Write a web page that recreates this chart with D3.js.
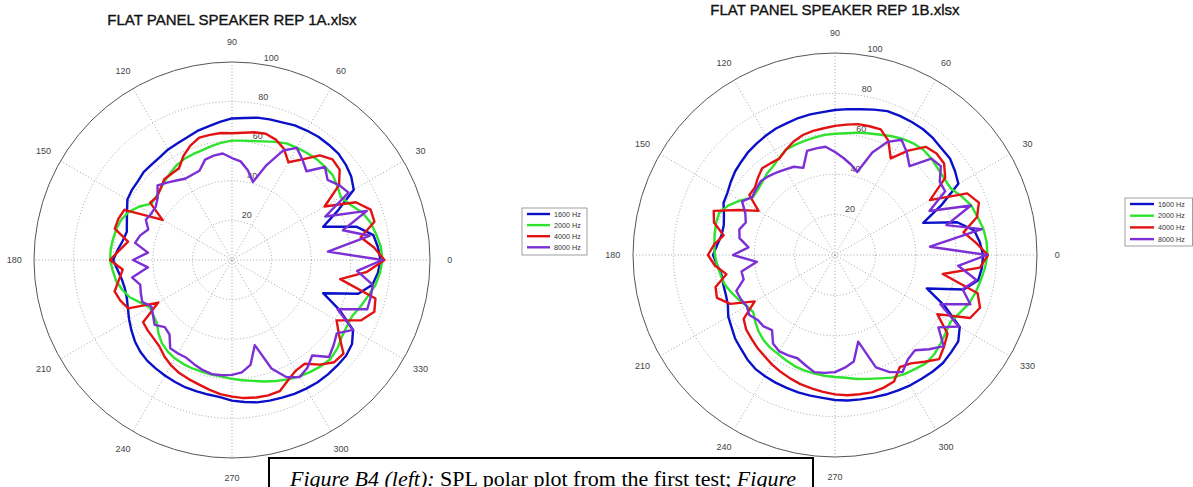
<!DOCTYPE html>
<html><head><meta charset="utf-8">
<script src="https://cdn.jsdelivr.net/npm/d3@7"></script>
<style>body{margin:0;background:#fff;overflow:hidden}svg{display:block}</style>
</head><body><svg id="c" width="1193" height="487"></svg>
<script>
const angles = [0,5,10,15,20,25,30,35,40,45,50,55,60,65,70,75,80,85,90,95,100,105,110,115,120,125,130,135,140,145,150,155,160,165,170,175,180,185,190,195,200,205,210,215,220,225,230,235,240,245,250,255,260,265,270,275,280,285,290,295,300,305,310,315,320,325,330,335,340,345,350,355];
const seriesNames = ["1600 Hz","2000 Hz","4000 Hz","8000 Hz"];
const radialTicks = [20,40,60,80,100];
const angleTicks = [0,30,60,90,120,150,180,210,240,270,300,330];

// REP 1A
const rep1A_1600 = [75,74,72.5,65,49,59,71,73.5,75,76,76,76,75.5,75,74,73.5,73,72,71.5,70,68.5,67.5,66,65,64.5,63.5,63,63,62,61.7,61,58.5,56.5,55,56,58,60,58,56.5,56,56.5,58,60,62,64,65.5,66.5,67,67.5,68,68.5,68.7,69,69.5,71,72,73,73.5,74,74.6,75,75.4,75.4,75.3,75.2,74,70.6,60,49,66,72,74];
const rep1A_2000 = [76,75.5,74,72.5,70,66,63.5,65,66.5,66.5,66.5,66,65.5,65,63.5,62,61,60.5,60.3,59.5,58.5,57.5,57,56.5,55.5,54,52.5,51,50,49.6,54,57.5,59.5,60.5,61,61.5,61.6,60.5,59.5,57.5,55,51,48,48.5,49.5,52.5,55,56.5,57.5,58,58.3,58.5,58.8,59.1,60,61,62,63.5,65,66.5,68,69,70,70.5,69.5,67.7,67,67,69,71,73.5,75];
const rep1A_4000 = [77,72,66,74.5,74.5,69,54,66,71,71.8,69,62,57,62,64.7,66,65.5,64.5,64,64.4,64.2,64,61.5,58,53.5,53.2,53.2,51,49.5,50.5,40.5,60,61,61.3,53.3,57,61.6,55.4,58,61.4,60,57.8,43,54.8,55.5,56,57,59.5,61.5,63,64,65,66.5,68,69,70,70.5,70.8,70.5,67,64.5,64,69,73,73.5,66,61,72,76.5,75,55.5,68.5];
const rep1A_8000 = [76,48.6,70.5,58,72.5,52,68,66,63,66.4,58.5,62,65.4,61,51,40.8,46,50,51.5,54,53.5,52.5,48,47.5,47.4,49,51,53.2,49,47,47,48,45,48,49.7,42.6,50,42.6,51.2,48,49,50,47,48.7,51,48,49.1,54.4,54.5,54.5,56,57.5,58.5,58.4,58,57,53.8,44.5,58.3,65.3,68.3,66.4,63,69.3,67,64.6,70.6,58.8,72.7,72.5,72.2,63.4];

// REP 1B
const rep1B_1600 = [73.3,72,70,62.6,46.5,58,70.5,72.5,74.3,74.6,75.5,76,76,76,75.8,74.5,73.3,72.5,71.8,71,70.7,70.2,69.5,69.1,68.3,67.5,66.7,65.5,64.5,63,61.5,60.9,58.5,57,57,58.5,60.4,58.5,57,57.2,57.5,58.5,61,62.5,64.5,65.8,67.5,68.8,69.3,69.7,70,70.4,70.7,71,71.8,72.3,72.6,73,73.5,74,74.5,74.8,75.3,75.6,75,74.5,71.3,60,48.4,66,72,73];
const rep1B_2000 = [75.5,75.3,74.6,73,71.8,69,66.1,66,66.5,67.5,68,67.5,66.5,65,63.5,62.4,61.5,60.5,60,59.7,59,58.5,58,57.5,55.5,53.5,52.5,51,50,49.7,54,58.2,61,61,60.5,60,59.5,58.5,57.5,56.5,54.5,52.5,50.5,49.4,51.5,53.5,55,56,56.5,57.5,58.5,59.1,59.5,60,60.4,61,62.3,63.5,65,67,68.2,69,70,69.5,68.2,67,66.1,68,70.5,72,73.2,74.5];
const rep1B_4000 = [75.7,70,64.6,72.8,75.8,72.2,54.3,66.6,70.5,71.1,69.9,63.1,55.2,62.5,66.2,66,65.8,64.8,63.9,63,62.4,61.5,59.8,57.5,55.1,55.5,56.1,54,51.8,51.8,43.7,52.7,63.9,62,56,60,62.9,59.7,54.6,61.2,62.2,57.2,45.9,55.2,57.4,58.5,59.9,61,62.5,63.8,65,66.2,67,68,69,69.7,70,70.4,70,69.1,64.1,65.5,69,72.9,70.5,68,58.5,73.8,76.4,73.1,54.2,72];
const rep1B_8000 = [75.2,47.2,73.8,57.1,71.6,51.6,63,63.3,68.4,67.5,57.4,62,65.9,61.8,54,42.5,45.5,48.2,51,53.8,53.6,53.4,45.9,48.2,49,50,51,51.8,51,50,53.1,49,47,49,48,43,50.5,38.8,47,46.8,52,51.5,50.5,51.8,50,50,48.5,53.5,55.1,54.8,54.4,56.5,58.9,58.6,58,56,53.5,44.4,59.2,64,66.9,63,61.6,66,70.2,62.5,70.8,57.6,71.3,65.4,71.1,61.2];

const colors = ["#0a10c8","#2ee22e","#e31212","#7b2fd4"];

const plots = [
  {cx:232, cy:260, R:198, title:"FLAT PANEL SPEAKER REP 1A.xlsx", titleY:25,
   series:[rep1A_1600,rep1A_2000,rep1A_4000,rep1A_8000],
   legend:{x:522,y:208,w:65,h:47,row0:6,step:11.1,lx0:5,lx1:28,tx:32}},
  {cx:835, cy:255, R:202, title:"FLAT PANEL SPEAKER REP 1B.xlsx", titleY:15,
   series:[rep1B_1600,rep1B_2000,rep1B_4000,rep1B_8000],
   legend:{x:1125,y:198,w:67.5,h:48,row0:6,step:11.7,lx0:5,lx1:29,tx:33}}
];

const svg = d3.select("#c");
svg.append("rect").attr("width",1193).attr("height",487).attr("fill","#fff");

plots.forEach(p => {
  const g = svg.append("g").attr("transform",`translate(${p.cx},${p.cy})`);
  const r = d3.scaleLinear().domain([0,100]).range([0,p.R]);
  const toRad = a => a*Math.PI/180;

  radialTicks.forEach(t => {
    g.append("circle").attr("r", r(t)).attr("fill","none")
      .attr("stroke", t===100 ? "#555" : "#9a9a9a")
      .attr("stroke-width", t===100 ? 1 : 0.9)
      .attr("stroke-dasharray", t===100 ? null : "1,2.2");
  });
  angleTicks.filter(a => a < 180).forEach(a => {
    g.append("line")
      .attr("x1", r(100)*Math.cos(toRad(a))).attr("y1", -r(100)*Math.sin(toRad(a)))
      .attr("x2", -r(100)*Math.cos(toRad(a))).attr("y2", r(100)*Math.sin(toRad(a)))
      .attr("stroke","#9a9a9a").attr("stroke-width",0.9).attr("stroke-dasharray","1,2.2");
  });
  angleTicks.forEach(a => {
    g.append("text")
      .attr("x", r(110)*Math.cos(toRad(a))).attr("y", -r(110)*Math.sin(toRad(a)))
      .attr("text-anchor","middle").attr("dominant-baseline","central")
      .attr("font-family","Liberation Sans, Arial, sans-serif").attr("font-size",9)
      .attr("fill","#444").text(a);
  });
  radialTicks.forEach(t => {
    const rr = r(t+1);
    g.append("text")
      .attr("x", rr*Math.cos(toRad(82))+4).attr("y", -rr*Math.sin(toRad(82))-4)
      .attr("text-anchor","start").attr("dominant-baseline","central")
      .attr("font-family","Liberation Sans, Arial, sans-serif").attr("font-size",9)
      .attr("fill","#444").text(t);
  });
  const line = d3.lineRadial()
    .angle(d => toRad(90 - d.a))
    .radius(d => r(d.v))
    .curve(d3.curveLinearClosed);
  p.series.forEach((vals,i) => {
    const data = angles.map((a,j) => ({a:a, v:vals[j]}));
    g.append("path").attr("d", line(data)).attr("fill","none")
      .attr("stroke", colors[i]).attr("stroke-width",2.4).attr("stroke-linejoin","round");
  });
  svg.append("text").attr("x",p.cx).attr("y",p.titleY).attr("text-anchor","middle")
    .attr("font-family","Liberation Sans, Arial, sans-serif").attr("font-size",15)
    .attr("fill","#111").attr("stroke","#111").attr("stroke-width",0.35).text(p.title);
  const L = p.legend;
  const lg = svg.append("g").attr("transform",`translate(${L.x},${L.y})`);
  lg.append("rect").attr("width",L.w).attr("height",L.h).attr("fill","#fff")
    .attr("stroke","#888").attr("stroke-width",0.8);
  seriesNames.forEach((n,i) => {
    const y = L.row0 + i*L.step;
    lg.append("line").attr("x1",L.lx0).attr("x2",L.lx1).attr("y1",y).attr("y2",y)
      .attr("stroke",colors[i]).attr("stroke-width",2.4);
    lg.append("text").attr("x",L.tx).attr("y",y).attr("dominant-baseline","central")
      .attr("font-family","Liberation Sans, Arial, sans-serif").attr("font-size",7.2)
      .attr("fill","#333").text(n);
  });
});

svg.append("rect").attr("x",269).attr("y",458).attr("width",544).attr("height",60)
  .attr("fill","#fff").attr("stroke","#000").attr("stroke-width",2);
const cap = svg.append("text").attr("x",290).attr("y",486)
  .attr("font-family","Liberation Serif, Times New Roman, serif").attr("font-size",22).attr("fill","#000");
cap.append("tspan").attr("font-style","italic").text("Figure B4 (left):");
cap.append("tspan").text(" SPL polar plot from the first test; ");
cap.append("tspan").attr("font-style","italic").text("Figure");
</script></body></html>
